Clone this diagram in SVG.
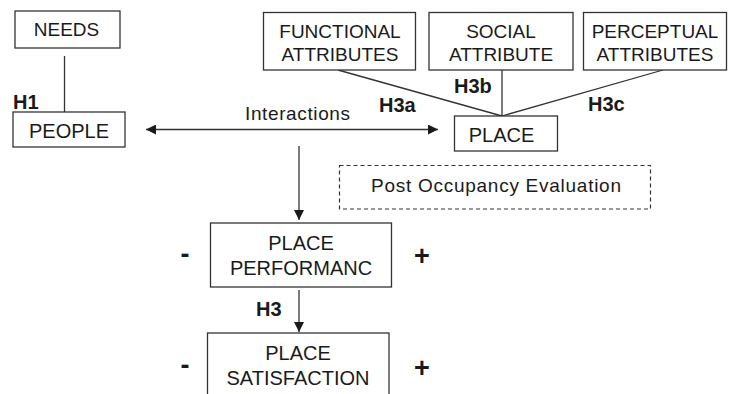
<svg xmlns="http://www.w3.org/2000/svg" width="734" height="394" viewBox="0 0 734 394">
<defs>
<style>
.box{fill:#fff;stroke:#333;stroke-width:1.3}
.dash{fill:none;stroke:#333;stroke-width:1.2;stroke-dasharray:4 3}
.ln{fill:none;stroke:#333;stroke-width:1.3}
.t{font-family:"Liberation Sans",Arial,sans-serif;font-size:19px;fill:#1a1a1a;text-anchor:middle}
.b{font-family:"Liberation Sans",Arial,sans-serif;font-size:20px;font-weight:bold;fill:#1a1a1a}
.pm{font-family:"Liberation Sans",Arial,sans-serif;font-size:27px;font-weight:bold;fill:#1a1a1a;text-anchor:middle}
</style>
<marker id="ah" viewBox="0 0 10 10" refX="10" refY="5" markerWidth="10" markerHeight="10" markerUnits="userSpaceOnUse" orient="auto-start-reverse">
<path d="M0,0 L10,5 L0,10 z" fill="#1a1a1a"/>
</marker>
</defs>
<rect width="734" height="394" fill="#fff"/>
<g id="connectors">
<line class="ln" x1="64.5" y1="56" x2="64.5" y2="112"/>
<line class="ln" x1="338" y1="70" x2="502" y2="116"/>
<line class="ln" x1="502" y1="70" x2="502" y2="116"/>
<line class="ln" x1="663" y1="70" x2="502" y2="116"/>
<line class="ln" x1="146" y1="129.5" x2="438" y2="129.5" marker-start="url(#ah)" marker-end="url(#ah)"/>
<line class="ln" x1="299" y1="146" x2="299" y2="220" marker-end="url(#ah)"/>
<line class="ln" x1="299" y1="290" x2="299" y2="332" marker-end="url(#ah)"/>
</g>
<g id="labels">
<text class="b" x="13" y="109">H1</text>
<text class="b" x="379" y="112">H3a</text>
<text class="b" x="454" y="93">H3b</text>
<text class="b" x="588" y="111">H3c</text>
<text class="b" x="256" y="316">H3</text>
<text class="t" x="297.5" y="120" textLength="105">Interactions</text>
<text class="pm" x="185" y="263">-</text>
<text class="pm" x="422" y="265">+</text>
<text class="pm" x="185" y="374">-</text>
<text class="pm" x="422" y="377">+</text>
</g>
<g id="needs">
<rect class="box" x="15" y="11" width="105" height="37"/>
<text class="t" x="66.5" y="36">NEEDS</text>
</g>
<g id="people">
<rect class="box" x="13" y="112" width="112" height="35"/>
<text class="t" x="69" y="138" style="font-size:20px">PEOPLE</text>
</g>
<g id="functional">
<rect class="box" x="263.5" y="12.5" width="152" height="57.5"/>
<text class="t" x="340" y="37.5">FUNCTIONAL</text>
<text class="t" x="340" y="61">ATTRIBUTES</text>
</g>
<g id="social">
<rect class="box" x="429" y="12.5" width="144" height="57.5"/>
<text class="t" x="501" y="37.5">SOCIAL</text>
<text class="t" x="501" y="61">ATTRIBUTE</text>
</g>
<g id="perceptual">
<rect class="box" x="583.5" y="12.5" width="143" height="57.5"/>
<text class="t" x="655" y="37.5">PERCEPTUAL</text>
<text class="t" x="655" y="61">ATTRIBUTES</text>
</g>
<g id="place">
<rect class="box" x="454.5" y="116" width="103" height="35"/>
<text class="t" x="501.5" y="141.5" style="font-size:20px">PLACE</text>
</g>
<g id="poe">
<rect class="dash" x="339.5" y="165.5" width="311" height="43.5"/>
<text class="t" x="496" y="191.5" textLength="250">Post Occupancy Evaluation</text>
</g>
<g id="performance">
<rect class="box" x="210.5" y="223" width="181" height="64"/>
<text class="t" x="301" y="249.5" style="font-size:20px">PLACE</text>
<text class="t" x="301" y="274.5" style="font-size:20px">PERFORMANC</text>
</g>
<g id="satisfaction">
<rect class="box" x="207.5" y="333" width="181.5" height="70"/>
<text class="t" x="298" y="360" style="font-size:20px">PLACE</text>
<text class="t" x="298" y="384.5" style="font-size:20px">SATISFACTION</text>
</g>
</svg>
